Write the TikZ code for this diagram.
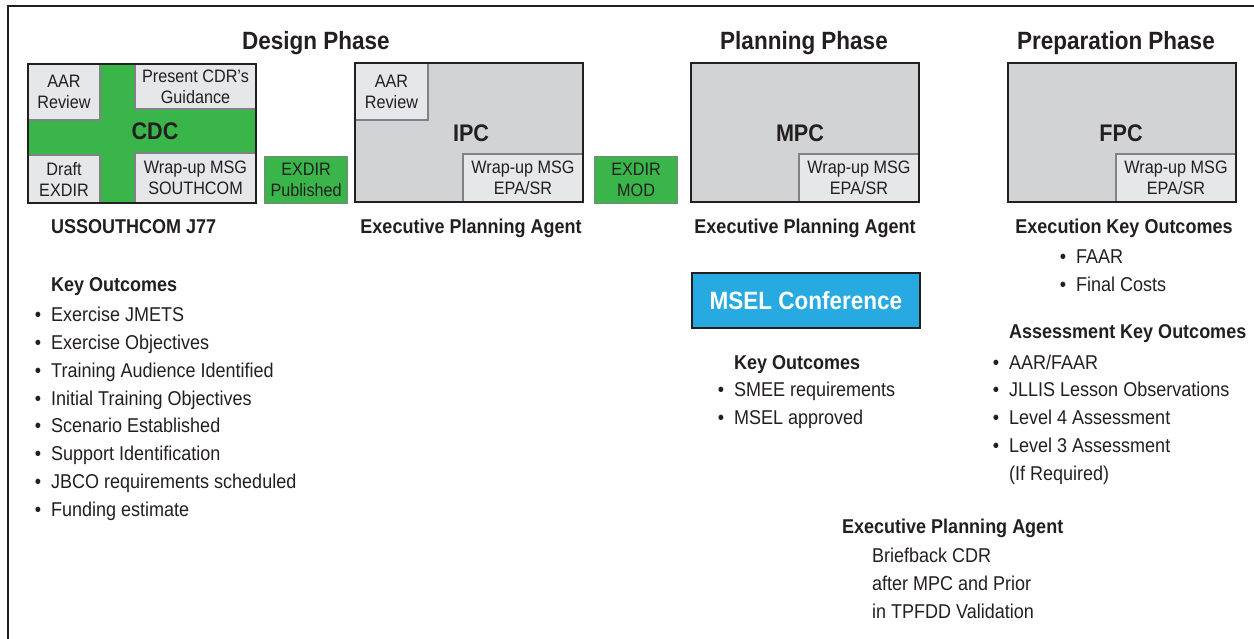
\documentclass[tikz,border=0pt]{standalone}
\usepackage{fontspec}
\setmainfont{Liberation Sans}[FakeStretch=0.9]
\usetikzlibrary{positioning}

\definecolor{cdcgreen}{RGB}{57,181,74}
\definecolor{mselblue}{RGB}{39,170,225}
\definecolor{pcgray}{RGB}{209,211,212}
\definecolor{subgray}{RGB}{230,231,232}
\definecolor{edgegray}{RGB}{128,130,133}
\definecolor{ink}{RGB}{35,31,32}

% bullet hanging left of the text start
\newcommand{\bul}{\llap{\textbullet\hspace{10pt}}}

\tikzset{
	phasetitle/.style={font=\fontsize{25}{30}\selectfont\bfseries, inner sep=0pt, anchor=base},
	confbox/.style={fill=pcgray, minimum width=228pt, minimum height=139pt, inner sep=0pt, outer sep=0pt, anchor=north west},
	confname/.style={font=\fontsize{24}{28}\selectfont\bfseries, inner sep=0pt},
	subbox/.style={draw=edgegray, line width=1.2pt, fill=subgray, inner sep=0pt, outer sep=0pt, align=center, font=\fontsize{18}{21}\selectfont},
	exdirbox/.style={draw=edgegray, line width=1.2pt, fill=cdcgreen, inner sep=0pt, anchor=north west, minimum width=83pt, minimum height=47pt, align=center, font=\fontsize{18}{21}\selectfont},
	headtxt/.style={font=\fontsize{20}{24}\selectfont\bfseries, inner sep=0pt, anchor=base west},
	itemtxt/.style={font=\fontsize{20}{24}\selectfont, inner sep=0pt, anchor=base west},
}

\begin{document}
\begin{tikzpicture}[x=1pt, y=-1pt, color=ink]
	\useasboundingbox (0,0) rectangle (1254,639);
	%frame
	\draw[line width=2.5pt] (8,639) -- (8,6) -- (1254,6);

	%phase titles
	\node[phasetitle] (design) at (316,50) {Design Phase};
	\node[phasetitle] (planning) at (804,50) {Planning Phase};
	\node[phasetitle] (prep) at (1116,50) {Preparation Phase};

	%conferences
	\node[confbox, fill=cdcgreen] (cdc) at (28,64) {};
	\node[confbox] (ipc) at (355,63) {};
	\node[confbox] (mpc) at (691,63) {};
	\node[confbox] (fpc) at (1008,63) {};

	\node[subbox, anchor=north west, minimum width=72pt, minimum height=56pt] (cdcaar) at (cdc.north west) {AAR\\Review};
	\node[subbox, anchor=north east, minimum width=121pt, minimum height=45pt] (guid) at (cdc.north east) {Present CDR's\\Guidance};
	\node[subbox, anchor=south west, minimum width=72pt, minimum height=48pt] (draft) at (cdc.south west) {Draft\\EXDIR};
	\node[subbox, anchor=south east, minimum width=121pt, minimum height=50pt] (cdcwrap) at (cdc.south east) {Wrap-up MSG\\SOUTHCOM};

	\node[subbox, anchor=north west, minimum width=73pt, minimum height=57pt] (ipcaar) at (ipc.north west) {AAR\\Review};
	\foreach \b in {ipc,mpc,fpc}{
		\node[subbox, anchor=south east, minimum width=120pt, minimum height=48pt] (\b wrap) at (\b.south east) {Wrap-up MSG\\EPA/SR};
	}
	\foreach \b in {cdc,ipc,mpc,fpc}{
		\draw[line width=2pt] (\b.north west) rectangle (\b.south east);
	}

	\node[confname] (cdclbl) at (155,131) {CDC};
	\node[confname] (ipclbl) at (471,133) {IPC};
	\node[confname] (mpclbl) at (800,133) {MPC};
	\node[confname] (fpclbl) at (1121,133) {FPC};

	\node[exdirbox] (published) at (264,156) {EXDIR\\Published};
	\node[exdirbox] (mod) at (594,156) {EXDIR\\MOD};

	%design phase outcomes
	\node[headtxt] (j77) at (51,234) {USSOUTHCOM J77};
	\node[headtxt] (designko) at (51,291) {Key Outcomes};
	\foreach \t [count=\i from 0] in {Exercise JMETS, Exercise Objectives, Training Audience Identified, Initial Training Objectives, Scenario Established, Support Identification, JBCO requirements scheduled, Funding estimate}{
		\node[itemtxt] (designitem\i) at (51,321.7+27.8*\i) {\bul\t};
	}

	\node[headtxt, anchor=base] (ipcepa) at (471,234) {Executive Planning Agent};
	\node[headtxt, anchor=base] (mpcepa) at (805,234) {Executive Planning Agent};

	%msel
	\node[draw, line width=2pt, fill=mselblue, text=white, anchor=north west, minimum width=228pt, minimum height=55pt, inner sep=0pt, font=\fontsize{25}{30}\selectfont\bfseries] (msel) at (691,272) {MSEL Conference};
	\node[headtxt] (mselko) at (734,369) {Key Outcomes};
	\node[itemtxt] (smee) at (734,396) {\bul SMEE requirements};
	\node[itemtxt] (mselok) at (734,424) {\bul MSEL approved};

	%preparation phase outcomes
	\node[headtxt, anchor=base] (execko) at (1124,234) {Execution Key Outcomes};
	\node[itemtxt] (faar) at (1076,264) {\bul FAAR};
	\node[itemtxt] (costs) at (1076,292) {\bul Final Costs};
	\node[headtxt] (assessko) at (1009,338) {Assessment Key Outcomes};
	\foreach \t [count=\i from 0] in {AAR/FAAR, JLLIS Lesson Observations, Level 4 Assessment, Level 3 Assessment}{
		\node[itemtxt] (assess\i) at (1009,369+27.8*\i) {\bul\t};
	}
	\node[itemtxt] (ifreq) at (1009,480) {(If Required)};

	%briefback
	\node[headtxt] (brfepa) at (842,533) {Executive Planning Agent};
	\node[itemtxt] (brf1) at (872,562) {Briefback CDR};
	\node[itemtxt] (brf2) at (872,590) {after MPC and Prior};
	\node[itemtxt] (brf3) at (872,618) {in TPFDD Validation};
\end{tikzpicture}
\end{document}
